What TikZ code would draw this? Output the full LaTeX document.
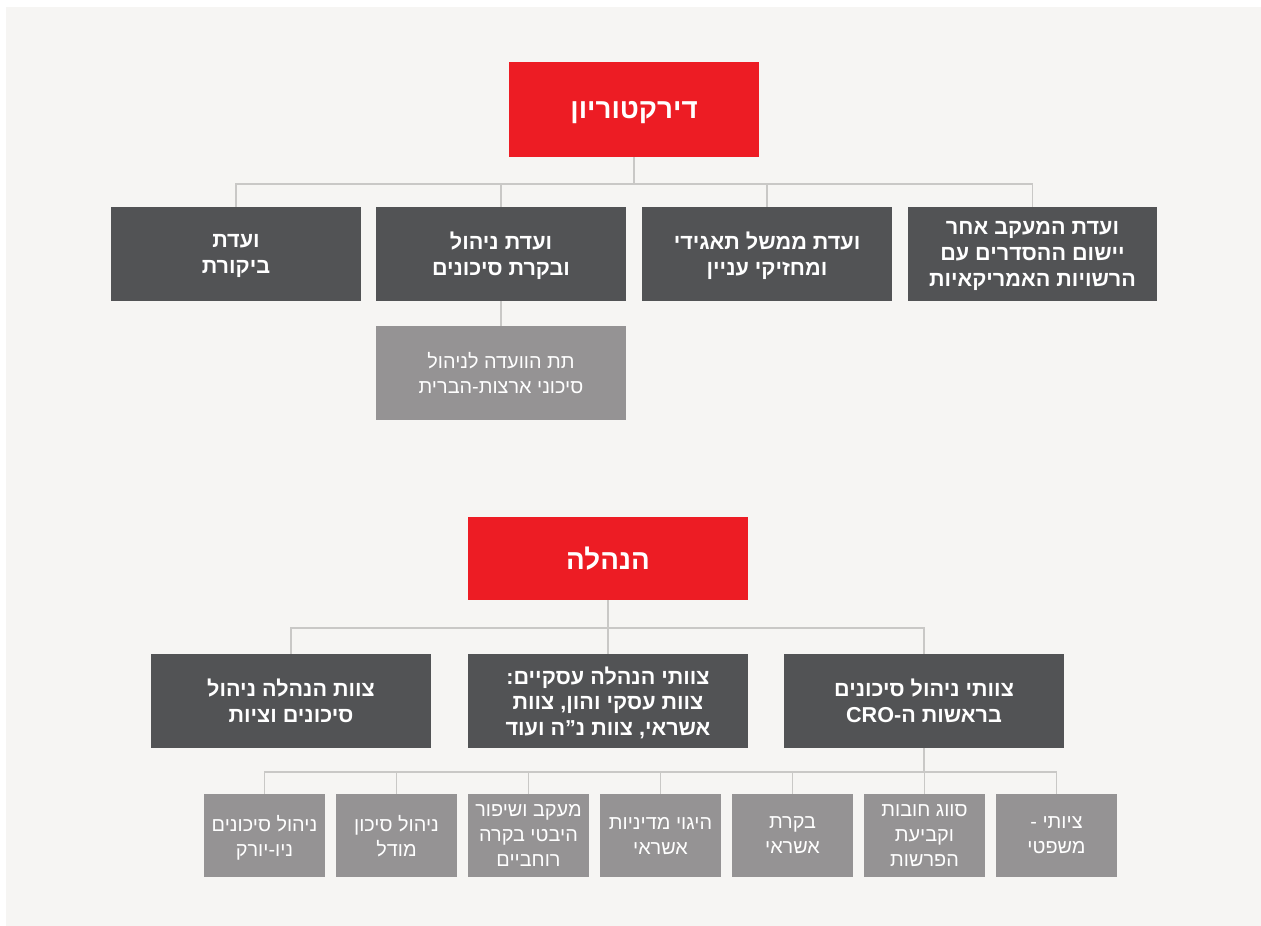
\documentclass[tikz,border=0pt]{standalone}
\usepackage{fontspec}
\newfontfamily\hebfont[Script=Hebrew]{Liberation Sans}
\TeXXeTstate=1
\newcommand{\heb}[1]{\beginR #1\endR}

\definecolor{boardred}{HTML}{ED1C24}
\definecolor{darkbox}{HTML}{525355}
\definecolor{lightbox}{HTML}{959394}
\definecolor{bgcol}{HTML}{F6F5F3}
\definecolor{linecol}{HTML}{C9C8C6}

\tikzset{
  redbox/.style={fill=boardred, text=white, inner sep=0pt, align=center, text depth=-3.5pt,
    font=\hebfont\bfseries\fontsize{15.8}{18}\selectfont},
  darkbox/.style={fill=darkbox, text=white, inner sep=0pt, align=center, text depth=-3pt,
    minimum height=1.88cm, font=\hebfont\bfseries\fontsize{12.3}{14.6}\selectfont},
  graybox/.style={fill=lightbox, text=white, inner sep=0pt, align=center, text depth=-3pt,
    font=\hebfont\fontsize{11.3}{14.2}\selectfont},
  conn/.style={draw=linecol, line width=1.1pt}
}

\begin{document}
\begin{tikzpicture}[x=0.02cm, y=-0.02cm]
    \fill[white] (0,0) rectangle (1261,926);
    \fill[bgcol] (6,7) rectangle (1261,926);
    \useasboundingbox (0,0) rectangle (1261,926);

    % board and its committees
    \node[redbox, minimum width=5cm, minimum height=1.9cm] (board) at (634,109.5) {\heb{דירקטוריון}};
    \node[darkbox, minimum width=5cm] (uscomm) at (1032.5,254) {\heb{ועדת המעקב אחר}\\\heb{יישום ההסדרים עם}\\\heb{הרשויות האמריקאיות}};
    \node[darkbox, minimum width=5cm] (govcomm) at (767,254) {\heb{ועדת ממשל תאגידי}\\\heb{ומחזיקי עניין}};
    \node[darkbox, minimum width=5cm] (riskcomm) at (501,254) {\heb{ועדת ניהול}\\\heb{ובקרת סיכונים}};
    \node[darkbox, minimum width=5cm] (audit) at (236,254) {\heb{ועדת}\\\heb{ביקורת}};
    \node[graybox, minimum width=5cm, minimum height=1.88cm] (ussub) at (501,373) {\heb{תת הוועדה לניהול}\\\heb{סיכוני ארצות-הברית}};

    \draw[conn] (board.south) -- ++(0,27) -| (uscomm.north);
    \draw[conn] (board.south) -- ++(0,27) -| (govcomm.north);
    \draw[conn] (board.south) -- ++(0,27) -| (riskcomm.north);
    \draw[conn] (board.south) -- ++(0,27) -| (audit.north);
    \draw[conn] (riskcomm.south) -- (ussub.north);

    % management and its teams
    \node[redbox, minimum width=5.6cm, minimum height=1.66cm] (mgmt) at (608,558.5) {\heb{הנהלה}};
    \node[darkbox, minimum width=5.6cm] (croteam) at (924,701) {\heb{צוותי ניהול סיכונים}\\\heb{בראשות ה-\beginL CRO\endL}};
    \node[darkbox, minimum width=5.6cm] (bizteam) at (608,701) {\heb{צוותי הנהלה עסקיים:}\\\heb{צוות עסקי והון, צוות}\\\heb{אשראי, צוות נ”ה ועוד}};
    \node[darkbox, minimum width=5.6cm] (compteam) at (291,701) {\heb{צוות הנהלה ניהול}\\\heb{סיכונים וציות}};

    \draw[conn] (mgmt.south) -- ++(0,28) -| (croteam.north);
    \draw[conn] (mgmt.south) -- ++(0,28) -| (bizteam.north);
    \draw[conn] (mgmt.south) -- ++(0,28) -| (compteam.north);

    % CRO sub-teams
    \node[graybox, minimum width=2.42cm, minimum height=1.66cm] (legal) at (1056.5,835.5) {\heb{ציותי -}\\\heb{משפטי}};
    \node[graybox, minimum width=2.42cm, minimum height=1.66cm] (provis) at (924.5,835.5) {\heb{סווג חובות}\\\heb{וקביעת}\\\heb{הפרשות}};
    \node[graybox, minimum width=2.42cm, minimum height=1.66cm] (credrev) at (792.5,835.5) {\heb{בקרת}\\\heb{אשראי}};
    \node[graybox, minimum width=2.42cm, minimum height=1.66cm] (credpol) at (660.5,835.5) {\heb{היגוי מדיניות}\\\heb{אשראי}};
    \node[graybox, minimum width=2.42cm, minimum height=1.66cm] (monitor) at (528.5,835.5) {\heb{מעקב ושיפור}\\\heb{היבטי בקרה}\\\heb{רוחביים}};
    \node[graybox, minimum width=2.42cm, minimum height=1.66cm] (model) at (396.5,835.5) {\heb{ניהול סיכון}\\\heb{מודל}};
    \node[graybox, minimum width=2.42cm, minimum height=1.66cm] (nyrisk) at (264.5,835.5) {\heb{ניהול סיכונים}\\\heb{ניו-יורק}};

    \draw[conn] (croteam.south) -- ++(0,24) -| (legal.north);
    \draw[conn] (croteam.south) -- ++(0,24) -| (provis.north);
    \draw[conn] (croteam.south) -- ++(0,24) -| (credrev.north);
    \draw[conn] (croteam.south) -- ++(0,24) -| (credpol.north);
    \draw[conn] (croteam.south) -- ++(0,24) -| (monitor.north);
    \draw[conn] (croteam.south) -- ++(0,24) -| (model.north);
    \draw[conn] (croteam.south) -- ++(0,24) -| (nyrisk.north);
\end{tikzpicture}
\end{document}
